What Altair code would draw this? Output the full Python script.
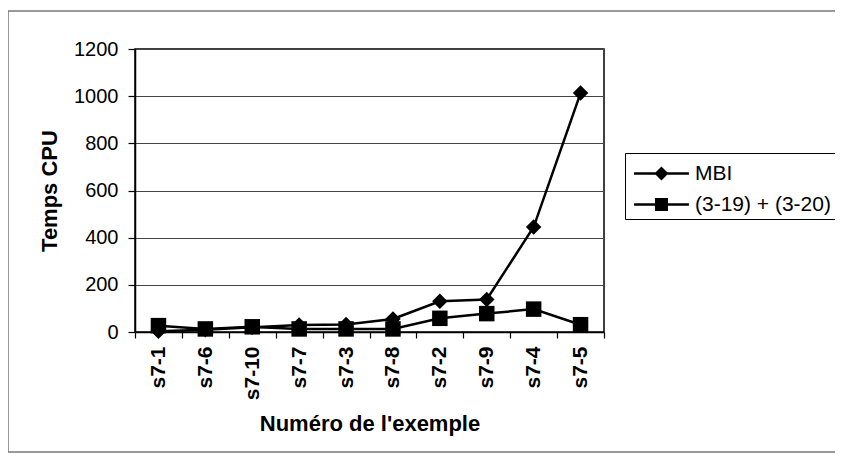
import altair as alt
import pandas as pd

examples = ["s7-1", "s7-6", "s7-10", "s7-7", "s7-3", "s7-8", "s7-2", "s7-9", "s7-4", "s7-5"]
mbi = [3, 10, 20, 30, 32, 55, 130, 138, 445, 1013]
eq = [27, 13, 22, 13, 13, 13, 58, 78, 97, 31]
series_names = ["MBI", "(3-19) + (3-20)"]
y_ticks = [0, 200, 400, 600, 800, 1000, 1200]

rows = []
for i, ex in enumerate(examples):
    rows.append({"ex": ex, "serie": series_names[0], "t": mbi[i]})
    rows.append({"ex": ex, "serie": series_names[1], "t": eq[i]})
df = pd.DataFrame(rows)
df["legende"] = df["serie"]

FONT = "Liberation Sans"
W, H = 469, 283
PL, PT = 127, 41

x = alt.X(
    "ex:N", sort=examples,
    scale=alt.Scale(type="band", paddingInner=0, paddingOuter=0),
    axis=alt.Axis(title="Numéro de l'exemple", labelAngle=-90, tickBand="extent",
                  grid=False, tickSize=6, labelPadding=8, labelFontSize=21,
                  labelFontWeight="bold", titleFontSize=22, titlePadding=14),
)
y = alt.Y(
    "t:Q", scale=alt.Scale(domain=[0, 1200], nice=False),
    axis=alt.Axis(title="Temps CPU", values=y_ticks, format="d", grid=True, tickSize=7,
                  labelPadding=10, labelFontSize=20, titleFontSize=22, titlePadding=12),
)

base = alt.Chart(df)

lines = base.mark_line(color="black", strokeWidth=2.5).encode(x=x, y=y, detail="serie:N")

points = base.mark_point(filled=True, color="black", opacity=1, size=240).encode(
    x=x, y=y,
    shape=alt.Shape("serie:N", scale=alt.Scale(domain=series_names, range=["diamond", "square"]),
                    legend=None),
)

# legend symbols: a thin filled bar (the line) with the marker on it (unit = 15.5 px)
diamond_path = "M-0.74,-0.08H2.8V0.08H-0.74ZM1.03,-0.45L1.48,0L1.03,0.45L0.58,0Z"
square_path = "M-0.74,-0.08H2.8V0.08H-0.74ZM0.61,-0.42H1.45V0.42H0.61Z"

legend_layer = base.mark_point(
    filled=True, color="black", opacity=0, size=961
).encode(
    x=x, y=y,
    shape=alt.Shape(
        "legende:N",
        scale=alt.Scale(domain=series_names, range=[diamond_path, square_path]),
        legend=alt.Legend(
            title=None, orient="none", legendX=490, legendY=104,
            strokeColor="black", padding=4, labelFontSize=21, labelFont=FONT,
            labelColor="black", labelOffset=33, symbolSize=961, symbolOpacity=1,
            symbolFillColor="black", rowPadding=4,
        ),
    ),
)

frame = alt.Chart(pd.DataFrame({"a": [0]})).mark_rect(
    filled=False, stroke="#777777", strokeWidth=1.5
).encode(x=alt.value(-127), x2=alt.value(720), y=alt.value(-38), y2=alt.value(403))

chart = alt.layer(frame, lines, points, legend_layer).resolve_scale(
    shape="independent"
).properties(
    width=W, height=H,
    autosize=alt.AutoSizeParams(type="none"),
    padding={"left": PL, "top": PT, "right": 827 - PL - W, "bottom": 446 - PT - H},
).configure_view(
    stroke="black", strokeWidth=1.5
).configure_axis(
    labelFont=FONT, titleFont=FONT, labelColor="black", titleColor="black",
    domainColor="black", domainWidth=1.5, tickColor="black", tickWidth=1.2,
    gridColor="#444444", gridWidth=1.2, titleFontWeight="bold",
)

chart.save("out.html", embed_options={"renderer": "svg", "actions": False})
